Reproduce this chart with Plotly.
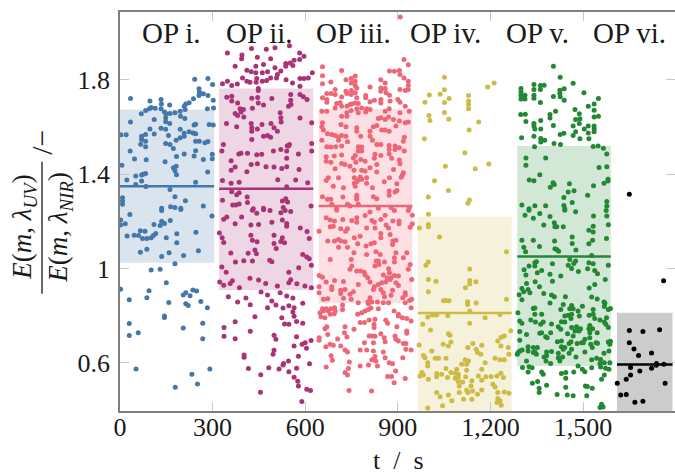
import plotly.graph_objects as go

op_names = ["OP i.", "OP ii.", "OP iii.", "OP iv.", "OP v.", "OP vi."]
op_label_t = [168, 453, 755, 1056, 1354, 1652]
colors = ["#4477AA", "#AA3377", "#EE6677", "#CCBB44", "#228833", "#000000"]
band_start = [0, 321, 644, 965, 1287, 1610]
band_end = [305, 626, 947, 1269, 1590, 1790]
band_low = [1.024, 0.908, 0.852, 0.39, 0.586, 0.39]
band_high = [1.674, 1.763, 1.677, 1.219, 1.519, 0.812]
means = [1.349, 1.338, 1.265, 0.811, 1.051, 0.592]
x_ticks = [0, 300, 600, 900, 1200, 1500]
x_tick_labels = ["0", "300", "600", "900", "1,200", "1,500"]
y_ticks = [0.6, 1.0, 1.4, 1.8]
y_tick_labels = ["0.6", "1", "1.4", "1.8"]

op1 = [(242,1.803),(285,1.806),(300,1.78),(256,1.762),(257,1.749),(256,1.734),(270,1.741),(285,1.734),(238,1.72),(302,1.714),(34,1.721),(97,1.71),(133,1.717),(134,1.698),(161,1.693),(224,1.703),(213,1.698),(208,1.688),(303,1.681),(283,1.677),(101,1.683),(114,1.68),(83,1.67),(69,1.656),(95,1.678),(133,1.677),(144,1.664),(149,1.656),(162,1.657),(178,1.66),(195,1.667),(211,1.674),(196,1.646),(210,1.636),(111,1.632),(148,1.639),(148,1.622),(161,1.615),(34,1.621),(240,1.608),(245,1.612),(289,1.611),(302,1.608),(97,1.592),(133,1.595),(148,1.59),(195,1.59),(3,1.567),(20,1.567),(70,1.561),(83,1.568),(111,1.57),(157,1.564),(208,1.574),(224,1.58),(237,1.575),(245,1.571),(208,1.561),(195,1.554),(182,1.544),(70,1.547),(245,1.54),(257,1.54),(275,1.533),(285,1.539),(148,1.53),(162,1.526),(67,1.527),(83,1.54),(83,1.516),(173,1.509),(33,1.498),(245,1.499),(183,1.475),(208,1.485),(240,1.477),(47,1.464),(85,1.461),(146,1.453),(270,1.462),(299,1.484),(299,1.465),(6,1.438),(173,1.427),(182,1.434),(178,1.414),(183,1.397),(83,1.403),(75,1.4),(51,1.392),(70,1.396),(22,1.375),(51,1.356),(70,1.371),(84,1.348),(245,1.366),(284,1.409),(162,1.335),(178,1.304),(212,1.287),(8,1.30),(8,1.286),(8,1.272),(164,1.262),(178,1.259),(197,1.255),(135,1.255),(270,1.265),
(32,1.229),(2,1.205),(2,1.184),(17,1.189),(135,1.246),(197,1.25),(298,1.222),(135,1.2),(144,1.191),(130,1.182),(110,1.186),(163,1.203),(23,1.138),(46,1.141),(60,1.14),(66,1.16),(81,1.158),(73,1.127),(87,1.127),(101,1.13),(108,1.14),(116,1.148),(150,1.13),(184,1.147),(184,1.109),(246,1.153),(66,1.069),(87,1.081),(135,1.051),(159,1.066),(206,1.055),(254,1.075),(178,1.02),(101,.993),(130,.996),(150,.939),(2,.912),(94,.905),(87,.876),(30,.867),(158,.855),(205,.887),(213,.897),(227,.884),(236,.908),(248,.904),(213,.85),(221,.843),(262,.86),(283,.833),(144,.798),(144,.792),(30,.766),(205,.747),(268,.767),(30,.715),(59,.727),(268,.702),(52,.573),(233,.551),(291,.573),(251,.51),(179,.496)]

op2 = [(348,1.914),(426,1.933),(474,1.93),(502,1.936),(549,1.945),(395,1.906),(394,1.89),(445,1.896),(488,1.89),(582,1.914),(596,1.90),(582,1.886),(564,1.883),(373,1.858),(440,1.858),(465,1.865),(537,1.869),(551,1.872),(537,1.858),(502,1.851),(411,1.841),(425,1.835),(440,1.83),(461,1.83),(478,1.835),(521,1.838),(510,1.823),(560,1.861),(623,1.83),(397,1.808),(411,1.794),(421,1.79),(443,1.806),(441,1.79),(461,1.794),(475,1.797),(488,1.808),(507,1.808),(538,1.801),(583,1.806),(610,1.808),(596,1.806),(332,1.784),(348,1.794),(362,1.776),(380,1.782),(559,1.787),(583,1.773),(448,1.763),(448,1.755),(362,1.731),(346,1.726),(427,1.722),(446,1.725),(492,1.721),(553,1.738),(583,1.738),(594,1.728),(606,1.717),(553,1.714),(362,1.71),(381,1.702),(448,1.702),(389,1.678),(429,1.68),(400,1.674),(465,1.693),(546,1.688),(554,1.695),(373,1.657),(392,1.664),(381,1.649),(401,1.643),(519,1.66),(521,1.639),(583,1.638),(345,1.615),(378,1.601),(425,1.615),(460,1.611),(489,1.615),(522,1.621),(621,1.618),(427,1.597),(445,1.592),(427,1.582),(499,1.597),(510,1.582),(427,1.547),(465,1.561),(478,1.564),(488,1.557),(335,1.526),(542,1.52),(549,1.526),(330,1.498),(497,1.498),(521,1.505),(540,1.498),(546,1.519),(392,1.489),(413,1.489),(385,1.485),(443,1.482),(459,1.484),(540,1.467),(578,1.486),(621,1.53),(621,1.498),(425,1.441),(445,1.444),(473,1.431),(499,1.43),(524,1.424),(540,1.431),(360,1.457),(373,1.43),(360,1.416),(411,1.41),(580,1.42),(569,1.375),(511,1.376),(332,1.373),(360,1.361),(386,1.366),(540,1.347),(608,1.363),(362,1.325),(386,1.321),(378,1.313),(412,1.303),(332,1.289),(365,1.269),(375,1.269),(386,1.273),(413,1.28),(526,1.286),(537,1.296),(543,1.282),(619,1.265),(465,1.255),(529,1.258),(432,1.253),
(429,1.247),(443,1.234),(465,1.249),(486,1.246),(521,1.236),(535,1.246),(553,1.242),(394,1.218),(336,1.209),(346,1.218),(526,1.205),(492,1.196),(540,1.191),(540,1.179),(373,1.189),(424,1.184),(449,1.186),(584,1.172),(606,1.157),(322,1.15),(331,1.13),(336,1.11),(424,1.141),(499,1.141),(526,1.13),(521,1.114),(533,1.109),(429,1.119),(444,1.113),(499,1.106),(613,1.127),(506,1.085),(359,1.065),(415,1.064),(437,1.078),(442,1.062),(592,1.059),(605,1.048),(613,1.041),(374,1.027),(401,1.032),(429,1.031),(485,1.035),(492,1.028),(620,1.013),(330,1.006),(579,1.003),(344,.984),(547,.984),(421,.958),(449,.951),(553,.952),(547,.939),(323,.942),(336,.929),(357,.936),(364,.948),(387,.918),(472,.936),(510,.925),(573,.935),(599,.925),(620,.918),(457,.90),(478,.887),(519,.897),(540,.883),(560,.874),(351,.88),(408,.874),(381,.857),(422,.846),(492,.862),(505,.845),(478,.833),(528,.832),(547,.842),(564,.833),(592,.852),(560,.815),(564,.797),(437,.795),(524,.791),(572,.775),(373,.774),(533,.764),(547,.763),(592,.767),(337,.749),(422,.733),(337,.712),(373,.702),(499,.716),(505,.699),(572,.71),(619,.694),(600,.685),(590,.678),(564,.671),(604,.661),(499,.653),(496,.636),(402,.633),(402,.623),(578,.627),(546,.607),(530,.597),(528,.59),(614,.595),(482,.578),(515,.573),(416,.575),(572,.576),(547,.562),(456,.549),(564,.538),(576,.521),(578,.501),(605,.487),(617,.482),(455,.475),(589,.435)]

op3 = [(908,2.067),(920,1.886),(934,1.864),(656,1.856),(718,1.84),(873,1.838),(889,1.837),(905,1.84),(656,1.818),(907,1.823),(920,1.808),(749,1.806),(762,1.816),(732,1.801),(845,1.801),(683,1.791),(656,1.784),(762,1.794),(859,1.787),(934,1.794),(762,1.776),(749,1.787),(934,1.776),(767,1.766),(810,1.77),(845,1.766),(697,1.759),(934,1.759),(859,1.763),(907,1.759),(732,1.752),(749,1.755),(670,1.742),(684,1.742),(697,1.738),(735,1.742),(749,1.738),(762,1.745),(845,1.752),(862,1.745),(873,1.735),(924,1.755),(656,1.724),(718,1.727),(767,1.724),(796,1.734),(796,1.724),(845,1.717),(824,1.714),(900,1.717),(670,1.717),(670,1.705),(702,1.70),(713,1.703),(810,1.707),(875,1.71),(907,1.705),(751,1.698),(762,1.702),(772,1.70),(697,1.681),(718,1.688),(735,1.688),(745,1.695),(845,1.702),(924,1.688),(767,1.678),(783,1.681),(799,1.677),(810,1.674),(654,1.667),(670,1.667),(749,1.67),(735,1.66),(772,1.66),(796,1.664),(872,1.678),(859,1.667),(907,1.66),(937,1.667),(718,1.646),(735,1.646),(837,1.636),(845,1.639),(859,1.632),(870,1.643),(886,1.632),(905,1.625),(924,1.618),(934,1.621),(656,1.618),(716,1.611),(732,1.601),(654,1.601),(659,1.587),(767,1.597),(767,1.582),(832,1.606),(821,1.601),(894,1.604),(810,1.582),(848,1.587),(859,1.587),(872,1.582),(672,1.571),(686,1.568),(697,1.564),(708,1.558),(718,1.564),(732,1.561),(780,1.561),(810,1.561),(654,1.544),(708,1.544),(818,1.544),(921,1.557),(918,1.54),(737,1.537),(670,1.516),(683,1.515),(699,1.516),(718,1.519),(772,1.516),(783,1.515),(832,1.526),(845,1.526),(872,1.522),(872,1.505),(891,1.519),(905,1.512),(921,1.498),(891,1.505),(772,1.498),(783,1.498),(826,1.484),(845,1.479),(872,1.486),(762,1.479),(668,1.474),(694,1.477),(718,1.481),(756,1.469),(824,1.467),(668,1.455),(683,1.451),(718,1.445),(729,1.441),(764,1.451),(780,1.462),(794,1.455),(905,1.46),(907,1.444),(832,1.441),(880,1.467),(697,1.423),(745,1.434),(810,1.427),(886,1.42),(783,1.417),(794,1.413),(758,1.416),(832,1.409),(918,1.406),(915,1.396),(911,1.387),(675,1.385),(668,1.373),(708,1.385),(759,1.385),(778,1.388),(799,1.385),(783,1.378),(799,1.361),(767,1.368),(759,1.361),(856,1.368),(772,1.375),(897,1.359),(873,1.385),(691,1.349),(762,1.349),(724,1.342),(818,1.342),(897,1.331),(872,1.328),(872,1.31),(891,1.324),(656,1.304),(722,1.303),(767,1.31),(767,1.293),(832,1.296),(821,1.304),(672,1.293),(683,1.293),(767,1.304),(686,1.272),(772,1.272),(737,1.272),(745,1.265),(878,1.258),(937,1.258),(702,1.255),(837,1.255),
(702,1.247),(794,1.225),(810,1.239),(859,1.226),(889,1.246),(934,1.246),(947,1.226),(668,1.215),(681,1.205),(695,1.201),(722,1.208),(751,1.203),(767,1.215),(767,1.196),(816,1.203),(824,1.196),(845,1.208),(884,1.201),(904,1.201),(904,1.189),(947,1.189),(940,1.175),(691,1.179),(681,1.177),(715,1.168),(737,1.168),(731,1.158),(799,1.172),(826,1.172),(862,1.184),(870,1.172),(645,1.158),(845,1.148),(845,1.13),(759,1.13),(778,1.137),(875,1.144),(673,1.116),(695,1.116),(708,1.123),(716,1.116),(729,1.113),(770,1.105),(813,1.105),(824,1.109),(884,1.116),(894,1.12),(883,1.102),(708,1.09),(737,1.09),(797,1.095),(758,1.066),(799,1.059),(829,1.071),(843,1.059),(894,1.066),(929,1.066),(889,1.045),(918,1.045),(681,1.038),(749,1.038),(830,1.031),(837,1.031),(857,1.027),(889,1.027),(940,1.017),(826,1.01),(839,1.017),(751,1.01),(745,.996),(767,.989),(780,.989),(791,.984),(870,.999),(873,.982),(934,.996),(794,.972),(853,.972),(889,.97),(902,.968),(645,.97),(656,.963),(803,.96),(878,.96),(866,.96),(945,.953),(668,.942),(695,.949),(724,.945),(810,.942),(848,.939),(861,.942),(894,.939),(875,.953),(772,.932),(645,.922),(686,.922),(686,.911),(824,.922),(837,.932),(902,.928),(821,.911),(729,.911),(715,.907),(845,.911),(883,.907),(645,.897),(715,.894),(756,.901),(745,.89),(853,.897),(924,.897),(924,.887),(916,.876),(659,.869),(673,.871),(724,.873),(749,.869),(810,.876),(857,.88),(878,.886),(945,.869),(938,.864),(772,.854),(803,.859),(816,.857),(834,.857),(853,.854),(870,.854),(924,.854),(805,.85),(656,.829),(648,.812),(659,.819),(668,.829),(675,.819),(683,.829),(695,.833),(697,.819),(694,.808),(681,.805),(664,.791),(651,.795),(721,.845),(721,.826),(783,.812),(794,.819),(805,.826),(813,.832),(837,.829),(888,.819),(770,.805),(902,.805),(943,.833),(826,.784),(807,.781),(778,.77),(792,.77),(902,.798),(915,.791),(929,.788),(943,.777),(823,.763),(861,.78),(867,.767),(897,.753),(823,.749),(729,.753),(670,.753),(664,.744),(758,.742),(727,.727),(673,.72),(735,.709),(807,.713),(816,.713),(826,.712),(845,.723),(891,.713),(929,.734),(929,.725),(645,.706),(645,.695),(705,.701),(856,.706),(859,.689),(894,.699),(902,.692),(792,.685),(821,.685),(918,.681),(926,.681),(681,.678),(667,.668),(691,.674),(715,.671),(778,.654),(799,.654),(821,.65),(729,.654),(737,.645),(853,.645),(926,.657),(943,.654),(826,.626),(859,.621),(916,.621),(684,.629),(688,.61),(816,.612),(829,.607),(743,.603),(872,.60),(883,.596),(668,.582),(778,.586),(805,.59),(834,.586),(740,.575),(893,.565),(729,.558),(737,.548),(867,.541),(880,.541),(924,.533),(888,.515),(742,.482),(815,.48)]

op4 = [(1051,1.811),(1212,1.787),(1191,1.77),(1051,1.758),(1002,1.736),(1037,1.739),(1066,1.721),(1129,1.734),(1129,1.71),(1129,1.695),(1129,1.678),(988,1.705),(1051,1.704),(1001,1.649),(1004,1.628),(1051,1.662),(1065,1.633),(1162,1.621),(1131,1.587),(986,1.55),(1117,1.491),(1054,1.434),(1151,1.423),(1195,1.443),(1019,1.372),(1064,1.331),(999,1.303),(1132,1.29),(1127,1.277),
(999,1.23),(970,1.171),(999,1.186),(999,1.177),(1035,1.133),(1252,1.071),(999,1.027),(991,1.013),(1133,.997),(999,.953),(1024,.946),(1133,.949),(1153,.943),(1133,.934),(1119,.918),(999,.901),(1252,.869),(1048,.863),(1056,.864),(1066,.863),(1126,.859),(1126,.847),(1154,.853),(1133,.819),(997,.794),(1012,.802),(1026,.802),(1062,.799),(1183,.791),(1231,.804),(981,.763),(1133,.767),(1006,.739),(1064,.723),(1069,.716),(1266,.736),(1245,.713),(1235,.708),(1224,.692),(1072,.688),(1047,.678),(1064,.671),(969,.675),(1143,.681),(1172,.674),(1234,.671),(1127,.664),(1154,.657),(1158,.643),(1169,.636),(1258,.664),(1260,.636),(1010,.65),(983,.631),(988,.621),(1021,.619),(1032,.619),(1056,.619),(1215,.619),(1231,.612),(1245,.612),(1118,.612),(1129,.607),(1183,.60),(1107,.593),(1123,.593),(997,.60),(997,.586),(1056,.575),(1091,.572),(1123,.568),(1172,.572),(1072,.558),(1086,.555),(1096,.551),(978,.558),(983,.548),(972,.544),(1026,.554),(1042,.551),(1026,.54),(1096,.537),(1120,.54),(1061,.537),(1161,.544),(1185,.54),(1202,.541),(1221,.544),(1234,.555),(1242,.537),(999,.53),(1086,.534),(1096,.52),(1140,.523),(1172,.525),(1208,.508),(1110,.518),(1099,.501),(1137,.501),(1215,.497),(1123,.483),(1127,.473),(1099,.473),(1172,.484),(1224,.473),(1245,.476),(1260,.47),(1026,.473),(1064,.463),(1158,.466),(1142,.48),(1037,.455),(1113,.445),(1075,.439),(1140,.445),(1224,.448),(1231,.438),(1221,.431),(1235,.419),(1045,.417),(997,.408)]

op5 = [(1404,1.858),(1426,1.811),(1468,1.786),(1341,1.78),(1374,1.777),(1362,1.776),(1362,1.759),(1341,1.759),(1299,1.763),(1439,1.762),(1425,1.756),(1503,1.745),(1299,1.749),(1312,1.735),(1299,1.735),(1299,1.719),(1312,1.719),(1341,1.735),(1341,1.722),(1404,1.729),(1425,1.742),(1426,1.728),(1439,1.714),(1550,1.721),(1362,1.704),(1536,1.698),(1517,1.688),(1474,1.674),(1536,1.671),(1411,1.667),(1298,1.653),(1313,1.654),(1393,1.653),(1488,1.656),(1393,1.638),(1536,1.643),(1550,1.646),(1476,1.632),(1490,1.635),(1363,1.628),(1315,1.623),(1488,1.615),(1341,1.615),(1341,1.604),(1404,1.606),(1468,1.604),(1517,1.604),(1536,1.604),(1536,1.592),(1504,1.592),(1363,1.592),(1344,1.592),(1476,1.58),(1536,1.58),(1517,1.575),(1468,1.564),(1438,1.573),(1426,1.568),(1341,1.561),(1301,1.554),(1363,1.551),(1376,1.544),(1490,1.55),(1519,1.55),(1363,1.536),(1406,1.53),(1427,1.526),(1343,1.516),(1533,1.517),(1549,1.519),(1566,1.51),(1577,1.485),(1315,1.469),(1379,1.469),(1315,1.438),(1552,1.428),(1577,1.431),(1360,1.397),(1326,1.375),(1341,1.372),(1403,1.363),(1407,1.356),(1394,1.344),(1456,1.359),(1581,1.378),(1581,1.371),(1568,1.361),(1534,1.351),(1471,1.33),(1452,1.324),(1515,1.31),(1438,1.301),(1465,1.28),(1577,1.284),(1577,1.265),(1302,1.269),(1344,1.266),(1379,1.266),(1438,1.267),(1325,1.253),(1441,1.253),
(1312,1.226),(1325,1.247),(1339,1.213),(1360,1.233),(1393,1.22),(1441,1.247),(1476,1.24),(1534,1.222),(1575,1.246),(1577,1.222),(1407,1.194),(1409,1.177),(1415,1.177),(1373,1.184),(1436,1.177),(1533,1.179),(1582,1.185),(1519,1.162),(1533,1.155),(1465,1.133),(1576,1.127),(1302,1.119),(1339,1.119),(1408,1.116),(1465,1.106),(1531,1.12),(1519,1.105),(1359,1.093),(1308,1.09),(1409,1.083),(1415,1.08),(1421,1.073),(1477,1.078),(1314,1.071),(1528,1.055),(1457,1.038),(1476,1.031),(1344,1.024),(1349,1.028),(1401,1.02),(1470,1.021),(1519,1.024),(1533,1.02),(1325,1.01),(1344,1.01),(1452,1.013),(1582,1.013),(1309,.994),(1463,1.0),(1366,.991),(1352,.982),(1485,.987),(1515,.999),(1538,.991),(1547,.977),(1393,.975),(1428,.968),(1315,.972),(1572,.953),(1401,.946),(1345,.943),(1317,.936),(1359,.922),(1538,.932),(1520,.917),(1302,.915),(1322,.911),(1308,.901),(1293,.888),(1328,.897),(1373,.894),(1398,.887),(1407,.88),(1443,.88),(1528,.879),(1546,.87),(1302,.867),(1393,.853),(1568,.857),(1571,.852),(1436,.847),(1498,.839),(1569,.838),(1339,.83),(1344,.832),(1428,.826),(1463,.843),(1457,.829),(1468,.829),(1484,.819),(1582,.826),(1589,.83),(1533,.826),(1289,.812),(1344,.806),(1366,.806),(1441,.798),(1452,.801),(1463,.805),(1488,.798),(1520,.801),(1533,.805),(1576,.791),(1295,.777),(1331,.781),(1302,.767),(1346,.773),(1371,.773),(1363,.763),(1398,.764),(1430,.774),(1461,.787),(1441,.773),(1555,.781),(1569,.773),(1574,.763),(1582,.749),(1538,.787),(1522,.758),(1519,.744),(1420,.753),(1428,.742),(1463,.749),(1479,.753),(1492,.744),(1487,.734),(1531,.744),(1360,.725),(1366,.727),(1395,.727),(1450,.723),(1474,.734),(1468,.713),(1546,.727),(1522,.727),(1295,.732),(1379,.71),(1384,.706),(1317,.72),(1295,.695),(1506,.699),(1501,.685),(1522,.706),(1417,.689),(1430,.692),(1461,.689),(1455,.681),(1481,.681),(1495,.685),(1542,.685),(1547,.682),(1582,.688),(1589,.691),(1587,.678),(1430,.668),(1441,.664),(1525,.678),(1530,.664),(1295,.65),(1303,.654),(1322,.668),(1322,.65),(1339,.664),(1352,.664),(1344,.645),(1382,.645),(1398,.647),(1420,.64),(1436,.657),(1463,.657),(1455,.64),(1506,.645),(1568,.64),(1584,.65),(1287,.636),(1290,.643),(1339,.643),(1382,.629),(1349,.636),(1374,.624),(1420,.621),(1434,.624),(1477,.624),(1528,.612),(1544,.619),(1557,.614),(1569,.60),(1317,.607),(1380,.607),(1395,.597),(1425,.607),(1555,.597),(1587,.60),(1304,.58),(1325,.583),(1335,.579),(1322,.561),(1484,.586),(1498,.572),(1506,.562),(1528,.579),(1557,.582),(1573,.576),(1584,.572),(1366,.561),(1371,.551),(1430,.554),(1444,.558),(1444,.534),(1470,.561),(1569,.548),(1560,.53),(1336,.513),(1353,.52),(1382,.504),(1358,.492),(1358,.473),(1444,.496),(1508,.501),(1514,.499),(1530,.492),(1416,.465),(1449,.463),(1468,.46),(1512,.46),(1560,.424),(1555,.41),(1565,.412)]

op6 = [(1650,1.315),(1761,.948),(1650,.737),(1694,.732),(1748,.74),(1650,.685),(1665,.658),(1680,.631),(1722,.641),(1738,.597),(1762,.593),(1737,.589),(1654,.58),(1722,.576),(1684,.565),(1654,.548),(1640,.53),(1611,.513),(1766,.513),(1622,.463),(1640,.465),(1668,.432),(1694,.436)]

all_points = [op1, op2, op3, op4, op5, op6]

W, H = 675, 476
L, R, T, B = 120, 675, 12, 411.5
X_RANGE = [0, 1798]
Y_RANGE = [0.395, 2.088]
FONT = "Liberation Serif"
INK = "#1a1a1a"


def hex_rgba(c, a):
    return f"rgba({int(c[1:3],16)},{int(c[3:5],16)},{int(c[5:7],16)},{a})"


def px(x):
    return (x - L) / (R - L)


def py(y):
    return (B - y) / (B - T)


def label(x, y, text, size, angle=0):
    fig.add_annotation(xref="paper", yref="paper", x=px(x), y=py(y), text=text, showarrow=False,
                       xanchor="center", yanchor="middle", textangle=angle,
                       font=dict(family=FONT, size=size, color=INK))


fig = go.Figure()
for i, pts in enumerate(all_points):
    fig.add_shape(type="rect", xref="x", yref="y", layer="below", line_width=0,
                  x0=band_start[i], x1=band_end[i], y0=band_low[i], y1=band_high[i],
                  fillcolor=hex_rgba(colors[i], 0.2))
    fig.add_trace(go.Scatter(x=[p[0] for p in pts], y=[p[1] for p in pts], mode="markers",
                             marker=dict(color=colors[i], size=5, line_width=0),
                             showlegend=False, name=op_names[i]))
    fig.add_trace(go.Scatter(x=[band_start[i], band_end[i]], y=[means[i], means[i]], mode="lines",
                             line=dict(color=colors[i], width=2.5), showlegend=False))
    fig.add_annotation(x=op_label_t[i], y=2.0, text=op_names[i], showarrow=False,
                       xanchor="center", yanchor="middle",
                       font=dict(family=FONT, size=29, color=INK))

axis_common = dict(showgrid=False, zeroline=False, showline=True, linecolor="#808080", linewidth=1.5,
                   ticks="inside", ticklen=9, tickwidth=1, tickcolor="#c8c8c8", mirror="ticks",
                   tickfont=dict(family=FONT, size=26, color=INK))
fig.update_xaxes(range=X_RANGE, tickvals=x_ticks, ticktext=x_tick_labels, ticklabelstandoff=-8, **axis_common)
fig.update_yaxes(range=Y_RANGE, tickvals=y_ticks, ticktext=y_tick_labels, ticklabelstandoff=3, **axis_common)

label(398, 461, "t\u00a0\u00a0/\u00a0\u00a0s", 26)
label(24, 228, "<i>E</i>(<i>m</i>, <i>λ<sub>UV</sub></i>)", 27, -90)
label(60, 228, "<i>E</i>(<i>m</i>, <i>λ<sub>NIR</sub></i>)", 27, -90)
label(42, 143, "/−", 30, -90)
fig.add_shape(type="line", xref="paper", yref="paper", x0=px(42), x1=px(42), y0=py(162), y1=py(294),
              line=dict(color=INK, width=1.3))

fig.update_layout(width=W, height=H, margin=dict(l=L, r=W - R, t=T, b=H - B, pad=0, autoexpand=False),
                  paper_bgcolor="white", plot_bgcolor="white", showlegend=False)
fig.write_html("out.html", config={"displayModeBar": False},
               post_script="document.body.style.margin='0';document.documentElement.style.overflow='hidden';")
